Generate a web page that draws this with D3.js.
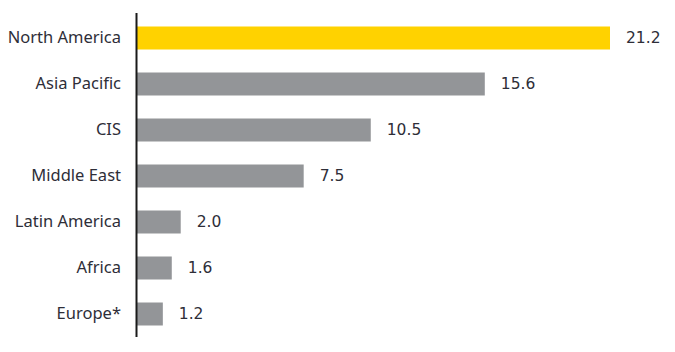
<!DOCTYPE html>
<html>
<head>
<meta charset="utf-8">
<script src="https://cdn.jsdelivr.net/npm/d3@7"></script>
<style>
  body { margin: 0; background: #fff; }
</style>
</head>
<body>
<script>
const regions = ["North America", "Asia Pacific", "CIS", "Middle East", "Latin America", "Africa", "Europe*"];
const values = [21.2, 15.6, 10.5, 7.5, 2.0, 1.6, 1.2];
const highlight = ["North America"];

const W = 675, H = 352;
const margin = { top: 15, right: 65, bottom: 15, left: 136 };

const svg = d3.select("body")
  .append("svg")
  .attr("width", W)
  .attr("height", H);

const x = d3.scaleLinear()
  .domain([0, 21.2])
  .range([margin.left, 610]);

const y = d3.scaleBand()
  .domain(regions)
  .range([margin.top, 337])
  .paddingInner(0.5)
  .paddingOuter(0.25);

const data = regions.map((r, i) => ({ region: r, value: values[i] }));

svg.selectAll("rect.bar")
  .data(data)
  .join("rect")
  .attr("class", "bar")
  .attr("x", x(0) + 1)
  .attr("y", d => y(d.region))
  .attr("width", d => x(d.value) - x(0) - 1)
  .attr("height", y.bandwidth())
  .attr("fill", d => highlight.includes(d.region) ? "#ffd200" : "#939598");

// value labels
svg.selectAll("text.val")
  .data(data)
  .join("text")
  .attr("class", "val")
  .attr("x", d => x(d.value) + 16)
  .attr("y", d => y(d.region) + y.bandwidth() / 2)
  .attr("dy", "0.35em")
  .attr("font-family", "DejaVu Sans, Verdana, sans-serif")
  .attr("font-size", "15.5px")
  .attr("fill", "#2e2e38")
  .text(d => d.value.toFixed(1));

// category axis
const axis = svg.append("g")
  .attr("transform", `translate(${margin.left},0)`)
  .call(d3.axisLeft(y).tickSize(0).tickPadding(15));

axis.select(".domain")
  .attr("d", `M0.5,13V337`)
  .attr("stroke", "#1a1a1a")
  .attr("stroke-width", 2);

axis.selectAll("text")
  .attr("font-family", "Noto Sans, sans-serif")
  .attr("font-size", "16.5px")
  .attr("fill", "#2e2e38");
</script>
</body>
</html>
